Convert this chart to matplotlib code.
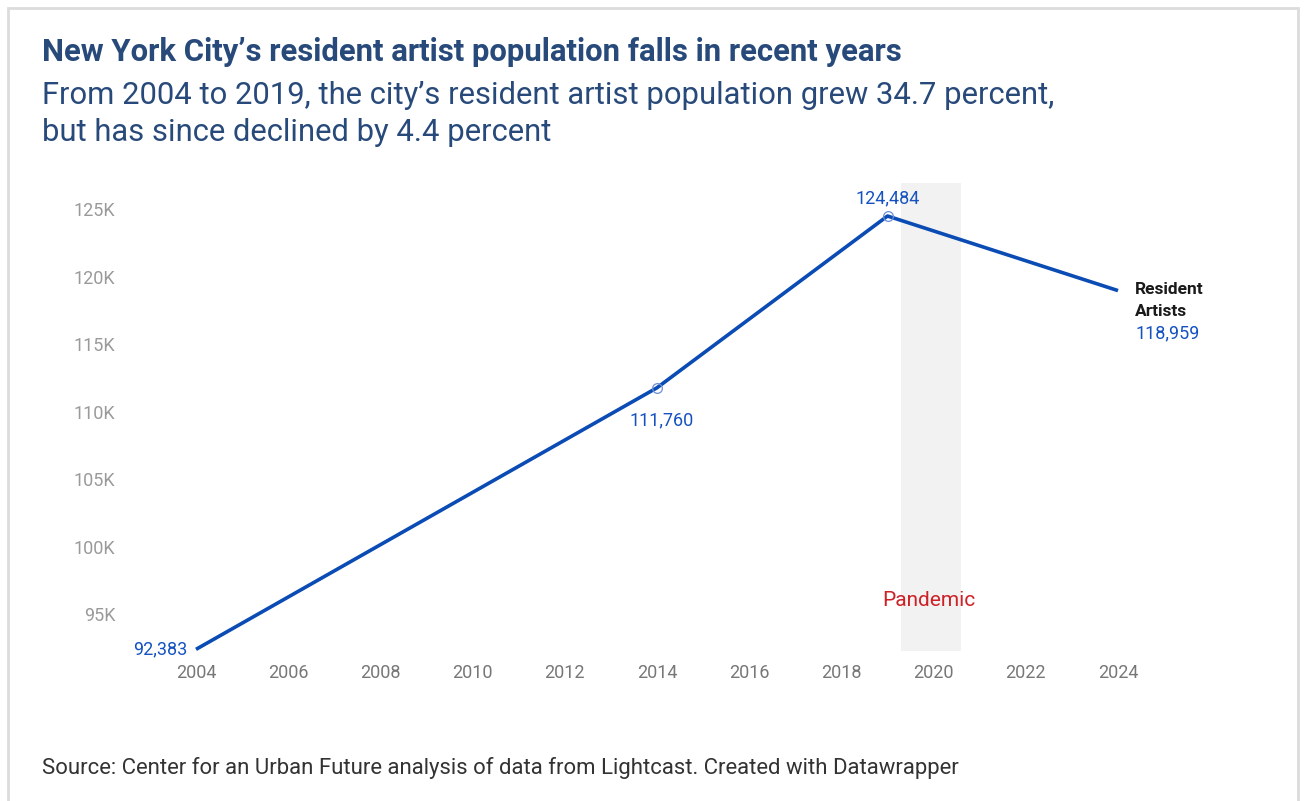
import matplotlib
matplotlib.use("Agg")
import matplotlib.pyplot as plt
from matplotlib.patches import Rectangle
from matplotlib.ticker import FuncFormatter

years = [2004, 2014, 2019, 2024]
artists = [92383, 111760, 124484, 118959]
marked_years = [2014, 2019]
pandemic_span = (2019.3, 2020.6)
x_ticks = list(range(2004, 2025, 2))
y_ticks = [95000, 100000, 105000, 110000, 115000, 120000, 125000]

LINE = "#0a4bb4"
LABEL = "#1552c0"
TITLE = "#284a7b"
W, H = 1306, 801

plt.rcParams["font.family"] = ["Roboto", "DejaVu Sans"]
fig = plt.figure(figsize=(W / 100, H / 100), dpi=100)

# outer frame
fig.patches.append(Rectangle((8 / W, -0.05), 1290 / W, 1.05 - 8 / H, transform=fig.transFigure,
                             fill=False, edgecolor="#dcdcdc", linewidth=2))

ax = fig.add_axes([196 / W, 1 - 651 / H, 922 / W, 468 / H])
ax.set_xlim(2004, 2024)
ax.set_ylim(92260, 126930)

ax.axvspan(*pandemic_span, color="#f2f2f2", zorder=0, lw=0)
ax.text(sum(pandemic_span) / 2 - 0.05, 96000, "Pandemic", color="#cc2127", fontsize=15,
        ha="center", va="center")

ax.plot(years, artists, color=LINE, lw=2.6, solid_capstyle="butt", clip_on=False, zorder=3)
mk = [artists[years.index(y)] for y in marked_years]
ax.plot(marked_years, mk, "o", ms=7, mfc="none", mec="#6b8fd6", mew=0.9, zorder=4)

fmt = lambda v: f"{v:,}"
ax.text(years[0] - 0.18, artists[0], fmt(artists[0]), color=LABEL, fontsize=13,
        ha="right", va="center")
ax.text(years[1] + 0.1, artists[1] - 2400, fmt(artists[1]), color=LABEL, fontsize=13,
        ha="center", va="center")
ax.text(years[2], artists[2] + 1300, fmt(artists[2]), color=LABEL, fontsize=13,
        ha="center", va="center")

# end-of-line series label
end_x = years[3] + 0.37
ax.text(end_x, artists[3] + 100, "Resident", color="#1a1a1a", fontsize=12.5,
        fontweight="bold", ha="left", va="center")
ax.text(end_x, artists[3] - 1530, "Artists", color="#1a1a1a", fontsize=12.5,
        fontweight="bold", ha="left", va="center")
ax.text(end_x, artists[3] - 3160, fmt(artists[3]), color=LABEL, fontsize=13,
        ha="left", va="center")

ax.set_xticks(x_ticks)
ax.set_yticks(y_ticks)
ax.yaxis.set_major_formatter(FuncFormatter(lambda v, p: f"{int(v / 1000)}K"))
ax.tick_params(axis="x", length=0, pad=9, labelsize=13, labelcolor="#777777")
ax.tick_params(axis="y", length=0, pad=58, labelsize=13, labelcolor="#9a9a9a")
for s in ax.spines.values():
    s.set_visible(False)

fig.text(42 / W, 1 - 52 / H, "New York City\u2019s resident artist population falls in recent years",
         fontweight="bold", fontsize=22.4, color=TITLE, va="center")
fig.text(42 / W, 1 - 114 / H,
         "From 2004 to 2019, the city\u2019s resident artist population grew 34.7 percent,\nbut has since declined by 4.4 percent",
         fontsize=22.3, color=TITLE, va="center", linespacing=1.32)
fig.text(42 / W, 1 - 768 / H,
         "Source: Center for an Urban Future analysis of data from Lightcast. Created with Datawrapper",
         fontsize=15.9, color="#333333", va="center")

fig.savefig("out.png", dpi=100)
